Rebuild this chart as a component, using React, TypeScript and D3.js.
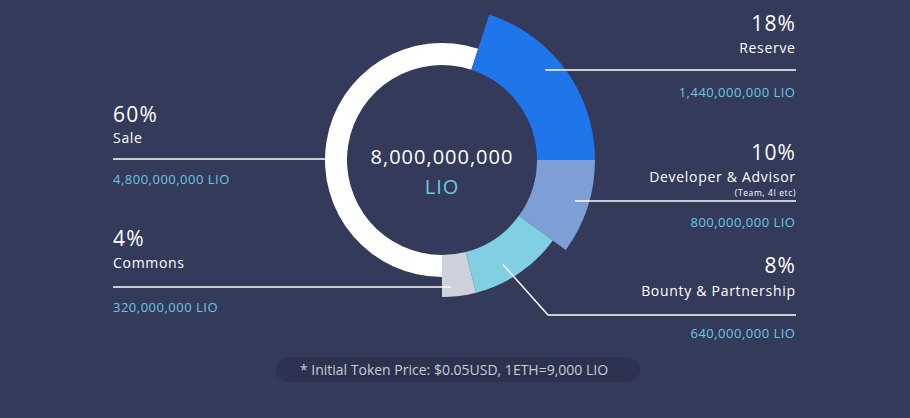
import React from 'react';
import * as d3 from 'd3';

// slice shares as drawn in the picture (angle of each arc)
const categories = ['Sale', 'Reserve', 'Developer & Advisor', 'Bounty & Partnership', 'Commons'];
const arcShares = [55, 20, 10, 11, 4];
const percentLabels = ['60%', '18%', '10%', '8%', '4%'];
const amountLabels = [
  '4,800,000,000 LIO',
  '1,440,000,000 LIO',
  '800,000,000 LIO',
  '640,000,000 LIO',
  '320,000,000 LIO',
];
const outerRadii = [117, 153, 153, 137, 137];
const colors = ['#ffffff', '#1f75ea', '#7d9fd6', '#80cfe3', '#cdd1db'];

const totalLabel = '8,000,000,000';
const unitLabel = 'LIO';
const subNote = '(Team, 4I etc)';
const footnote = '* Initial Token Price: $0.05USD, 1ETH=9,000 LIO';

const width = 910;
const height = 418;
const cx = 442;
const cy = 160;
const innerR = 95;

const BG = '#333a5a';
const BLUE_TEXT = '#6fc6e2';
const FONT = "'Open Sans', sans-serif";

const App = () => {
  const pie = d3
    .pie<number>()
    .sort(null)
    .startAngle(Math.PI)
    .endAngle(Math.PI * 3)(arcShares);

  const arcPath = (d: d3.PieArcDatum<number>, i: number) =>
    d3.arc<d3.PieArcDatum<number>>().innerRadius(innerR).outerRadius(outerRadii[i])(d) || '';

  // point on a slice at a given radius and fraction of its angle
  const pointOn = (i: number, r: number, t: number) => {
    const a = pie[i].startAngle + (pie[i].endAngle - pie[i].startAngle) * t;
    return [cx + r * Math.sin(a), cy - r * Math.cos(a)];
  };

  const leftX = 113;
  const rightX = 796;

  const [resX] = pointOn(1, 137, 0.43);
  const [devX] = pointOn(2, 139, 0.47);
  const [bouX, bouY] = pointOn(3, 121, 0.6);
  const [comX] = pointOn(4, 127, 0.72);

  const rightBlocks = [
    { i: 1, pct: 31, name: 53, amt: 97 },
    { i: 2, pct: 160, name: 182, amt: 227 },
    { i: 3, pct: 273, name: 296, amt: 338 },
  ];
  const leftBlocks = [
    { i: 0, pct: 122, name: 143, amt: 184 },
    { i: 4, pct: 246, name: 268, amt: 312 },
  ];

  const pctStyle = { fontSize: 21, letterSpacing: 1.2 };
  const nameStyle = { fontSize: 14, letterSpacing: 0.7 };
  const amtStyle = { fontSize: 13, letterSpacing: 0.5 };

  return (
    <svg width={width} height={height} style={{ display: 'block', position: 'absolute', left: 0, top: 0 }}>
      <rect width={width} height={height} fill={BG} />

      <g transform={`translate(${cx},${cy})`}>
        {pie.map((d, i) => (
          <path key={categories[i]} d={arcPath(d, i)} fill={colors[i]} />
        ))}
      </g>

      {/* leader lines */}
      <g stroke="#ffffff" strokeWidth={1.5} fill="none">
        <line x1={leftX} x2={cx - outerRadii[0]} y1={159} y2={159} />
        <line x1={leftX} x2={comX} y1={287} y2={287} />
        <line x1={resX} x2={rightX} y1={70} y2={70} />
        <line x1={devX} x2={rightX} y1={201} y2={201} />
        <polyline points={`${bouX},${bouY} ${548},${315} ${rightX},${315}`} />
      </g>

      {leftBlocks.map((b) => (
        <g key={categories[b.i]} fontFamily={FONT}>
          <text x={leftX} y={b.pct} fill="#ffffff" style={pctStyle}>
            {percentLabels[b.i]}
          </text>
          <text x={leftX} y={b.name} fill="#ffffff" style={nameStyle}>
            {categories[b.i]}
          </text>
          <text x={leftX} y={b.amt} fill={BLUE_TEXT} style={amtStyle}>
            {amountLabels[b.i]}
          </text>
        </g>
      ))}

      {rightBlocks.map((b) => (
        <g key={categories[b.i]} fontFamily={FONT} textAnchor="end">
          <text x={rightX + pctStyle.letterSpacing - 1} y={b.pct} fill="#ffffff" style={pctStyle}>
            {percentLabels[b.i]}
          </text>
          <text x={rightX + nameStyle.letterSpacing - 1} y={b.name} fill="#ffffff" style={nameStyle}>
            {categories[b.i]}
          </text>
          <text x={rightX + amtStyle.letterSpacing - 1} y={b.amt} fill={BLUE_TEXT} style={amtStyle}>
            {amountLabels[b.i]}
          </text>
        </g>
      ))}
      <text x={rightX} y={196} fill="#ffffff" fontFamily={FONT} textAnchor="end" style={{ fontSize: 8.5, letterSpacing: 0.6 }}>
        {subNote}
      </text>

      {/* centre */}
      <text x={cx} y={164} fill="#ffffff" fontFamily={FONT} textAnchor="middle" style={{ fontSize: 20, letterSpacing: 1 }}>
        {totalLabel}
      </text>
      <text x={cx} y={194} fill={BLUE_TEXT} fontFamily={FONT} textAnchor="middle" style={{ fontSize: 20, letterSpacing: 1 }}>
        {unitLabel}
      </text>

      {/* footnote pill */}
      <rect x={276} y={357} width={364} height={25} rx={12.5} fill="#2c3250" />
      <text x={454} y={375} fill="#c9ccd6" fontSize={14} fontFamily={FONT} textAnchor="middle">
        {footnote}
      </text>
    </svg>
  );
};

export default App;
